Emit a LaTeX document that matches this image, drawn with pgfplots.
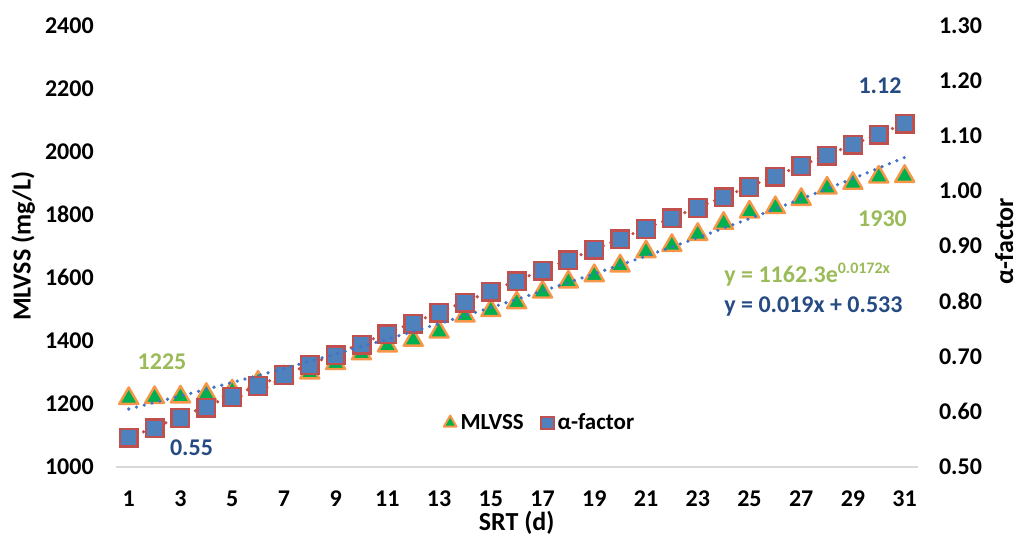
\documentclass[border=0pt]{standalone}
\usepackage{fontspec}
\setmainfont{Carlito}
\usepackage{pgfplots}
\usepackage{pgfplotstable}
\pgfplotsset{compat=1.18}
\definecolor{mgreen}{RGB}{0,176,80}
\definecolor{morange}{RGB}{247,150,70}
\definecolor{sqblue}{RGB}{79,129,189}
\definecolor{sqred}{RGB}{192,80,77}
\definecolor{trblue}{RGB}{68,114,196}
\definecolor{lblgreen}{RGB}{155,187,89}
\definecolor{lblblue}{RGB}{38,74,130}
\definecolor{axgray}{RGB}{217,217,217}

\pgfplotstableread{
x mlvss alpha
1 1225 0.552
2 1228 0.569
3 1230 0.588
4 1238 0.607
5 1249 0.626
6 1277 0.646
7 1294 0.666
8 1306 0.684
9 1336 0.702
10 1367 0.721
11 1392 0.740
12 1410 0.759
13 1436 0.779
14 1487 0.797
15 1504 0.817
16 1529 0.836
17 1563 0.855
18 1595 0.874
19 1615 0.893
20 1646 0.912
21 1691 0.931
22 1711 0.950
23 1746 0.969
24 1781 0.988
25 1817 1.007
26 1831 1.026
27 1857 1.045
28 1893 1.064
29 1908 1.084
30 1928 1.102
31 1930 1.122
}\datatable

% exponential trendline y = 1162.3 e^{0.0172x}
\pgfplotstableread{
x y
1 1182.5
3 1223.8
5 1266.7
7 1311.0
9 1356.9
11 1404.4
13 1453.5
15 1504.4
17 1557.1
19 1611.5
21 1668.0
23 1726.3
25 1786.8
27 1849.3
29 1914.0
31 1981.0
}\exptrend

% linear trendline y = 0.019x + 0.533
\pgfplotstableread{
x y
1 0.552
31 1.122
}\lintrend

\begin{document}
\begin{tikzpicture}[font=\bfseries]
\pgfplotsset{
  base/.style={
    scale only axis, width=400.9pt, height=220.5pt,
    at={(0,0)}, anchor=south west,
    xmin=0.5, xmax=31.5,
    major tick length=0pt,
    /pgf/number format/assume math mode=true,
    ticklabel style={font=\fontsize{12}{14}\selectfont\bfseries},
    label style={font=\fontsize{13}{15}\selectfont\bfseries},
    clip=false,
  },
  trend/.style={line width=1.8pt, line cap=round, dash pattern=on 0pt off 4pt},
}
\begin{axis}[base,
  ymin=1000, ymax=2400, ytick={1000,1200,1400,1600,1800,2000,2200,2400},
  xtick={1,3,...,31},
  axis x line*=bottom, axis y line*=left,
  x axis line style={draw=axgray, line width=1pt, -},
  y axis line style={draw=none},
  xticklabel style={yshift=-8.75pt},
  yticklabel style={xshift=-7.5pt, /pgf/number format/1000 sep={}},
  xlabel={SRT (d)}, ylabel={MLVSS (mg/L)},
  xlabel style={at={(axis description cs:0.5,-0.128)}, anchor=center},
  ylabel style={at={(axis description cs:-0.1154,0.5)}, anchor=center},
]
\addplot[only marks, mark=triangle*, mark size=5.5pt,
  mark options={fill=mgreen, draw=morange, line width=1.2pt, line join=round, yshift=-1.4pt}]
  table[x=x, y=mlvss]{\datatable};
\end{axis}

\begin{axis}[base,
  ymin=0.5, ymax=1.3, ytick={0.5,0.6,0.7,0.8,0.9,1.0,1.1,1.2,1.3},
  axis x line=none, axis y line*=right,
  y axis line style={draw=none},
  yticklabel style={xshift=7.2pt, /pgf/number format/fixed, /pgf/number format/fixed zerofill, /pgf/number format/precision=2},
  ylabel={α-factor},
  ylabel style={at={(axis description cs:1.108,0.511)}, anchor=center},
  legend style={at={(axis description cs:0.5303,0.0986)}, anchor=center, draw=none, fill=none,
    legend columns=2, font=\fontsize{11.5}{14}\selectfont\bfseries,
    /tikz/every even column/.append style={column sep=6.5pt}},
  legend image code/.code={\draw[mark repeat=2,mark phase=2,#1] plot coordinates {(0pt,0pt) (4pt,0pt) (8pt,0pt)};},
]
\addlegendimage{only marks, mark=triangle*, mark size=3.7pt, mark options={fill=mgreen, draw=morange, line width=1pt, line join=round}}
\addlegendentry{MLVSS}
\addlegendimage{only marks, mark=square*, mark size=3.2pt, mark options={fill=sqblue, draw=sqred, line width=1pt}}
\addlegendentry{α-factor}
\addplot[only marks, mark=square*, mark size=4.4pt, forget plot,
  mark options={fill=sqblue, draw=sqred, line width=1.2pt}]
  table[x=x, y=alpha]{\datatable};
\addplot[trend, draw=sqred, forget plot] table[x=x, y=y]{\lintrend};
\end{axis}

\begin{axis}[base, ymin=1000, ymax=2400, axis lines=none, ticks=none]
\addplot[trend, draw=trblue, forget plot] table[x=x, y=y]{\exptrend};
\end{axis}

\begin{scope}[every node/.style={font=\fontsize{12}{14}\selectfont\bfseries}]
\node[text=lblgreen] at (23.1pt,52.5pt) {1225};
\node[text=lblblue] at (37.85pt,9.5pt) {0.55};
\node[text=lblblue] at (382.1pt,190.5pt) {1.12};
\node[text=lblgreen] at (383.35pt,123.9pt) {1930};
\node[text=lblgreen, anchor=base west, inner sep=0pt] at (304.1pt,92.25pt) {y = 1162.3e\textsuperscript{0.0172x}};
\node[text=lblblue, anchor=base west, inner sep=0pt] at (304.1pt,77.25pt) {y = 0.019x + 0.533};
\end{scope}

\pgfresetboundingbox
\path[use as bounding box] (-57.9pt,-35.25pt) rectangle (451.6pt,233.25pt);
\end{tikzpicture}
\end{document}
